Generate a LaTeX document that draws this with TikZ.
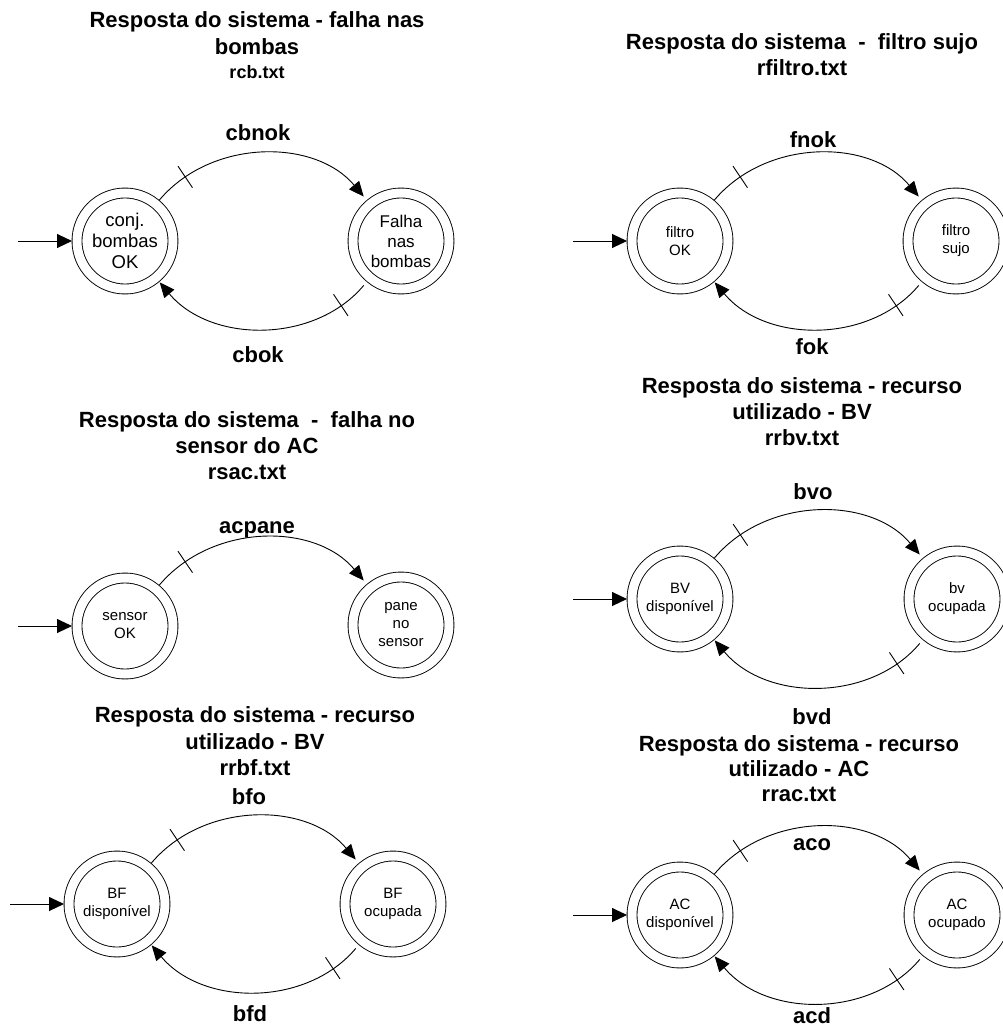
\documentclass[tikz,border=0pt]{standalone}
\usepackage{fontspec}
\setmainfont{Liberation Sans}
\usetikzlibrary{arrows.meta,decorations.markings}
\tikzset{
  state/.style={circle, draw, double, double distance=9pt, line width=0.9pt,
    minimum size=96pt, inner sep=0pt, outer sep=5pt, align=center,
    font=\fontsize{15}{18}\selectfont},
  ttl/.style={font=\bfseries\fontsize{22}{26}\selectfont, inner sep=0pt,
    text height=15.8pt, text depth=0pt},
  smallttl/.style={font=\bfseries\fontsize{18}{22}\selectfont, inner sep=0pt,
    text height=12.9pt, text depth=0pt},
  trans/.style={line width=0.9pt, -{Triangle[length=15pt,width=13pt]},
    postaction={decorate},
    decoration={markings, mark=at position 0.15 with {\draw[-, line width=0.9pt, shorten >=0pt, shorten <=0pt] (0,-13pt) -- (0,13pt);}}},
  init/.style={line width=0.9pt, -{Triangle[length=15pt,width=14pt]}},
}
\begin{document}
\begin{tikzpicture}[x=1pt,y=1pt]
\useasboundingbox (0,0) rectangle (1002,-1027);

% ---------- Panel A ----------
\node[ttl] (tA1) at (257,-20) {Resposta do sistema - falha nas};
\node[ttl] (tA2) at (257,-47) {bombas};
\node[smallttl] (tA3) at (257,-72) {rcb.txt};
\node[state, font=\fontsize{18.5}{21}\selectfont] (a1) at (125,-241) {conj.\\bombas\\OK};
\node[state, font=\fontsize{17}{20}\selectfont] (a2) at (401,-241) {Falha\\nas\\bombas};
\coordinate (ia) at (18,-241);
\draw[init] (ia) -- (a1);
\draw[trans, shorten >=5pt] (a1) to[out=50,in=130] (a2);
\draw[trans, shorten <=5pt, shorten >=1pt] (a2) to[out=-130,in=-50] (a1);
\node[ttl] (lA1) at (258,-133) {cbnok};
\node[ttl] (lA2) at (258,-355) {cbok};

% ---------- Panel B ----------
\node[ttl] (tB1) at (802,-42) {Resposta do sistema\ \ -\ \ filtro sujo};
\node[ttl] (tB2) at (802,-68) {rfiltro.txt};
\node[state] (b1) at (680,-241) {filtro\\OK};
\node[state] (b2) at (956,-241) {filtro\\sujo};
\coordinate (ib) at (573,-241);
\draw[init] (ib) -- (b1);
\draw[trans, shorten >=5pt] (b1) to[out=50,in=130] (b2);
\draw[trans, shorten <=5pt, shorten >=1pt] (b2) to[out=-130,in=-50] (b1);
\node[ttl] (lB1) at (813,-140) {fnok};
\node[ttl] (lB2) at (812,-347) {fok};

% ---------- Panel C ----------
\node[ttl] (tC1) at (247,-420) {Resposta do sistema\ \ -\ \ falha no};
\node[ttl] (tC2) at (247,-446) {sensor do AC};
\node[ttl] (tC3) at (247,-472) {rsac.txt};
\node[state] (c1) at (125,-626) {sensor\\OK};
\node[state] (c2) at (401,-625) {pane\\no\\sensor};
\coordinate (ic) at (18,-626);
\draw[init] (ic) -- (c1);
\draw[trans, shorten >=5pt] (c1) to[out=50,in=130] (c2);
\node[ttl] (lC1) at (257,-526) {acpane};

% ---------- Panel D ----------
\node[ttl] (tD1) at (802,-386) {Resposta do sistema - recurso};
\node[ttl] (tD2) at (802,-412) {utilizado - BV};
\node[ttl] (tD3) at (802,-438) {rrbv.txt};
\node[state] (d1) at (680,-599) {BV\\disponível};
\node[state] (d2) at (957,-599) {bv\\ocupada};
\coordinate (id) at (573,-599);
\draw[init] (id) -- (d1);
\draw[trans, shorten >=5pt] (d1) to[out=50,in=130] (d2);
\draw[trans, shorten <=5pt, shorten >=1pt] (d2) to[out=-130,in=-50] (d1);
\node[ttl] (lD1) at (813,-492) {bvo};
\node[ttl] (lD2) at (812,-717) {bvd};

% ---------- Panel E ----------
\node[ttl] (tE1) at (255,-715) {Resposta do sistema - recurso};
\node[ttl] (tE2) at (255,-742) {utilizado - BV};
\node[ttl] (tE3) at (255,-768) {rrbf.txt};
\node[state] (e1) at (117,-904) {BF\\disponível};
\node[state] (e2) at (393,-904) {BF\\ocupada};
\coordinate (ie) at (10,-904);
\draw[init] (ie) -- (e1);
\draw[trans, shorten >=5pt] (e1) to[out=50,in=130] (e2);
\draw[trans, shorten <=5pt, shorten >=1pt] (e2) to[out=-130,in=-50] (e1);
\node[ttl] (lE1) at (249,-797) {bfo};
\node[ttl] (lE2) at (250,-1014) {bfd};

% ---------- Panel F ----------
\node[ttl] (tF1) at (799,-744) {Resposta do sistema - recurso};
\node[ttl] (tF2) at (799,-769) {utilizado - AC};
\node[ttl] (tF3) at (799,-794) {rrac.txt};
\node[state] (f1) at (680,-915) {AC\\disponível};
\node[state] (f2) at (957,-915) {AC\\ocupado};
\coordinate (if) at (573,-915);
\draw[init] (if) -- (f1);
\draw[trans, shorten >=5pt] (f1) to[out=50,in=130] (f2);
\draw[trans, shorten <=5pt, shorten >=1pt] (f2) to[out=-130,in=-50] (f1);
\node[ttl] (lF1) at (812,-843) {aco};
\node[ttl] (lF2) at (812,-1016) {acd};
\end{tikzpicture}
\end{document}
